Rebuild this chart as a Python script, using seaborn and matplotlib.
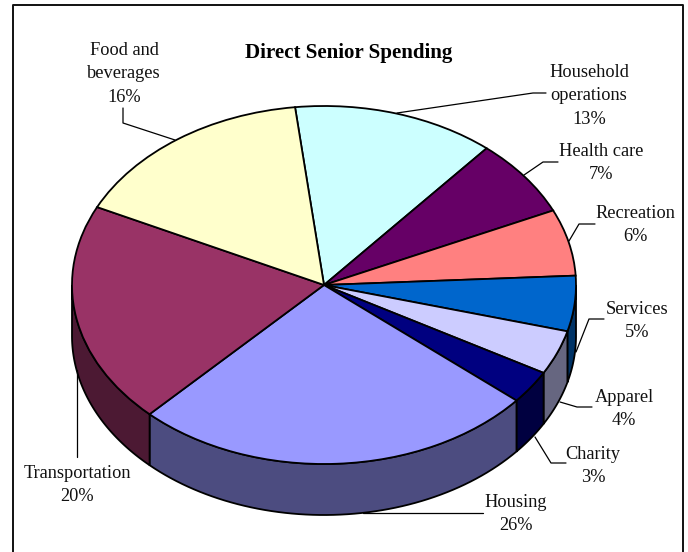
import numpy as np
import matplotlib
matplotlib.use("Agg")
import matplotlib.pyplot as plt
import seaborn as sns

categories = ["Household\noperations", "Health care", "Recreation", "Services", "Apparel",
              "Charity", "Housing", "Transportation", "Food and\nbeverages"]
shares = [13, 7, 6, 5, 4, 3, 26, 20, 16]
top_colors = ["#CCFFFF", "#660066", "#FF8080", "#0066CC", "#CCCCFF",
              "#000080", "#9999FF", "#993366", "#FFFFCC"]
wall_colors = ["#668080", "#330033", "#804040", "#003366", "#666680",
               "#000040", "#4C4C80", "#4C1933", "#808066"]

WIDTH, HEIGHT = 688, 552
CX, CY, RX, RY, DEPTH = 324, 285, 252, 179, 51
START_ANGLE = 96.6

sns.set_theme(style="white")
plt.rcParams["font.family"] = ["Liberation Serif", "DejaVu Serif"]

fig = plt.figure(figsize=(WIDTH / 100, HEIGHT / 100), dpi=100, facecolor="white")

# The pie lives in unit-circle coordinates; squashing the axes turns it into a tilted disc.
ax = fig.add_axes([0, 0, 1, 1])
palette = sns.color_palette(top_colors)
ax.pie(shares, colors=palette, startangle=START_ANGLE, counterclock=False, radius=1,
       wedgeprops=dict(edgecolor="black", linewidth=1.3, zorder=3))
ax.set_aspect("auto")
ax.set_xlim(-CX / RX, (WIDTH - CX) / RX)
ax.set_ylim(-(HEIGHT - CY) / RY, CY / RY)
ax.axis("off")

# Side walls: only the front half of the rim (180 to 360 degrees) is visible.
depth = DEPTH / RY
edges = START_ANGLE - 3.6 * np.cumsum([0] + shares)
for hi, lo, wall in zip(edges[:-1], edges[1:], wall_colors):
    hi_n = hi % 360 if hi % 360 != 0 else 360
    lo_n = hi_n - (hi - lo)
    for shift in (0, 360):
        a = max(lo_n + shift, 180)
        b = min(hi_n + shift, 360)
        if b <= a:
            continue
        t = np.radians(np.linspace(a, b, 60))
        xs = np.r_[np.cos(t), np.cos(t[::-1])]
        ys = np.r_[np.sin(t), np.sin(t[::-1]) - depth]
        ax.fill(xs, ys, facecolor=wall, edgecolor="black", linewidth=1.3, zorder=2)

# Frame, title, labels and leader lines are placed in page coordinates.
page = fig.add_axes([0, 0, 1, 1], facecolor="none")
page.set_xlim(0, WIDTH)
page.set_ylim(HEIGHT, 0)
page.axis("off")
page.plot([13, 13, 683, 683], [HEIGHT, 5, 5, HEIGHT], color="#111111", lw=1.4)
page.text(349, 53, "Direct Senior Spending", ha="center", va="center",
          fontsize=15.1, fontweight="bold", color="black")

label_positions = [(589, 96), (601, 163), (635, 225), (637, 321), (624, 409),
                   (593, 466), (516, 514), (77, 485), (124, 74)]
for name, share, (x, y) in zip(categories, shares, label_positions):
    page.text(x, y, f"{name}\n{share}%", ha="center", va="center", fontsize=13.2,
              color="#111111", linespacing=1.52)

leaders = [
    ([546, 533, 397], [93, 93, 113]),
    ([558, 543, 524], [162, 162, 175]),
    ([595, 579, 569], [224, 224, 241]),
    ([604, 589, 576], [319, 319, 352]),
    ([592, 577, 560], [407, 407, 402]),
    ([566, 551, 535], [463, 463, 437]),
    ([483, 363], [513, 513]),
    ([77, 77], [457, 370]),
    ([123, 123, 175], [108, 123, 140]),
]
for xs, ys in leaders:
    page.plot(xs, ys, color="black", lw=0.9)

fig.savefig("out.png", dpi=100)
